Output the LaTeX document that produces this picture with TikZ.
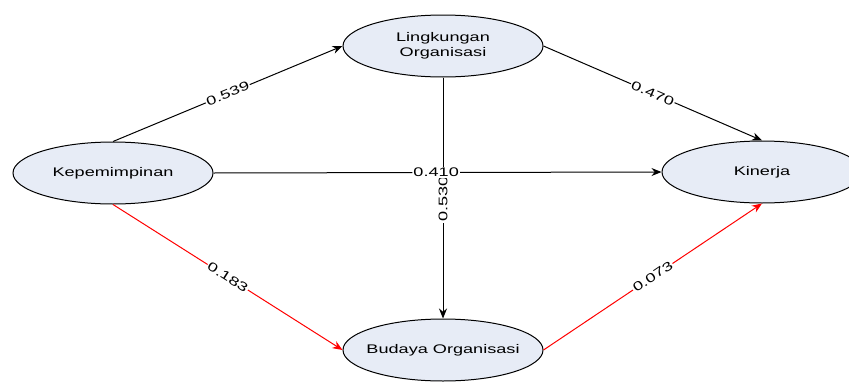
\documentclass[tikz,border=0pt]{standalone}
\usepackage{fontspec}
\setmainfont[FakeStretch=1.45]{Liberation Sans}
\usetikzlibrary{arrows.meta,shapes.geometric}
\definecolor{latentfill}{RGB}{231,236,246}
\tikzset{latent/.style={ellipse,draw,line width=1pt,fill=latentfill,minimum width=200pt,minimum height=62pt,inner xsep=-10pt,inner ysep=0pt,align=center}}
\tikzset{path/.style={line width=1pt,-{Stealth[length=10pt,width=8pt]}}}
\tikzset{weak path/.style={path,red}}
\tikzset{coef/.style={fill=white,text=black,inner sep=1pt,sloped}}

\begin{document}
\begin{tikzpicture}[x=1pt,y=-1pt,font=\fontsize{12.5}{15}\selectfont]
\useasboundingbox (0,0) rectangle (849,383);
\node[latent](kep) at (113,173) {Kepemimpinan};
\node[latent](ling) at (443,46) {Lingkungan\\Organisasi};
\node[latent](kin) at (762,172) {Kinerja};
\node[latent](bud) at (443,350) {Budaya Organisasi};
\draw[path](kep.north) -- (ling.west) node[coef,midway] {0.539};
\draw[path](ling.east) -- (kin.north) node[coef,midway] {0.470};
\draw[path](ling.south) -- (bud.north) node[fill=white,inner sep=1pt,rotate=90,pos=0.505] {0.530};
\draw[path](kep.east) -- (kin.west) node[coef,pos=0.497] {0.410};
\draw[weak path](kep.south) -- (bud.west) node[coef,midway] {0.183};
\draw[weak path](bud.east) -- (kin.south) node[coef,midway] {0.073};
\end{tikzpicture}
\end{document}
